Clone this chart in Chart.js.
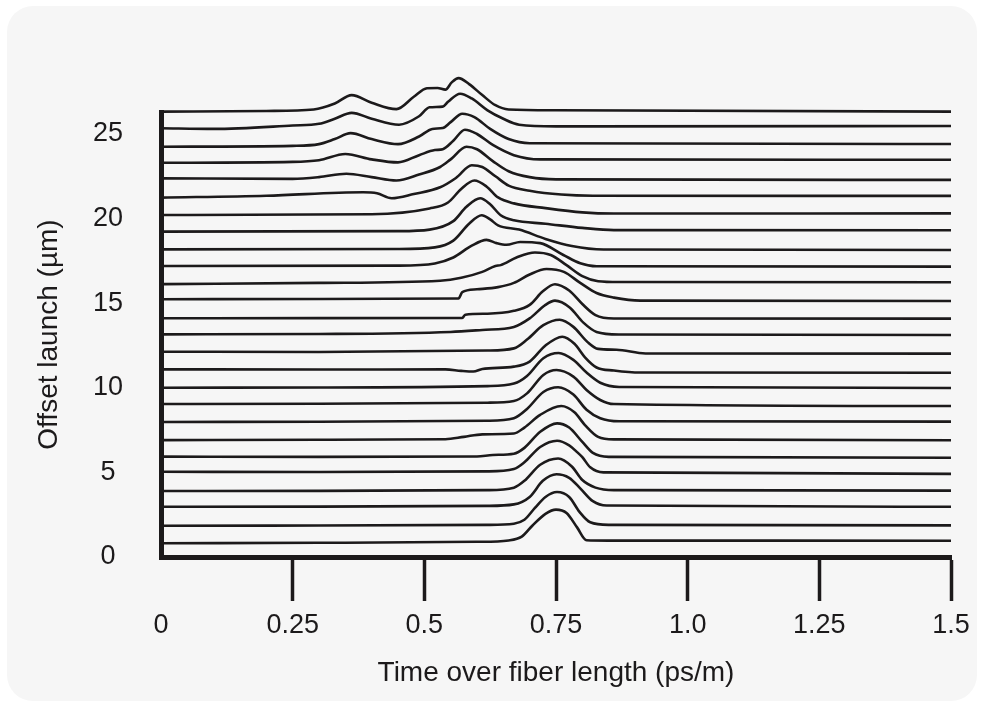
<!DOCTYPE html>
<html lang="en">
<head>
  <meta charset="UTF-8" />
  <title>Offset launch pulses</title>
  <script src="https://cdn.jsdelivr.net/npm/chart.js"></script>
  <style>
    body {
      margin: 0;
      background: #ffffff;
      font-family: "Liberation Sans", Arial, sans-serif;
    }
    .panel {
      position: absolute;
      left: 7px;
      top: 6px;
      width: 970px;
      height: 695px;
      border-radius: 26px;
      background: #f6f6f6;
    }
    canvas {
      position: absolute;
      left: 0;
      top: 0;
    }
  </style>
</head>
<body>
  <div class="panel"></div>
  <canvas id="pulseChart" width="984" height="708"></canvas>

  <script>
    // axis ticks
    const xTicks = [0, 0.25, 0.5, 0.75, 1.0, 1.25, 1.5];
    const xTickLabels = ["0", "0.25", "0.5", "0.75", "1.0", "1.25", "1.5"];
    const yTicks = [0, 5, 10, 15, 20, 25];

    // one trace per launch offset, bottom (1) to top (26): [time, level]
    const trace01 = [[0,0.81],[0.3,0.84],[0.6,0.90],[0.66,0.98],[0.685,1.2],[0.705,1.85],[0.73,2.55],[0.75,2.8],[0.77,2.6],[0.79,1.75],[0.808,0.99],[0.85,0.97],[1.5,0.96]];
    const trace02 = [[0,1.85],[0.3,1.86],[0.62,1.9],[0.67,1.97],[0.69,2.2],[0.71,2.9],[0.73,3.55],[0.752,3.84],[0.775,3.55],[0.795,2.65],[0.815,2.05],[0.85,1.9],[1.5,1.87]];
    const trace03 = [[0,2.97],[0.3,2.98],[0.62,3.02],[0.67,3.11],[0.70,3.55],[0.725,4.5],[0.751,4.89],[0.775,4.68],[0.796,4.06],[0.82,3.3],[0.846,3.04],[1.5,2.97]];
    const trace04 = [[0,3.90],[0.3,3.91],[0.62,3.95],[0.67,4.1],[0.69,4.5],[0.72,5.45],[0.754,5.82],[0.78,5.35],[0.80,4.55],[0.825,4.1],[0.86,3.95],[1.5,3.92]];
    const trace05 = [[0,5.04],[0.3,5.02],[0.62,5.06],[0.67,5.2],[0.69,5.6],[0.72,6.5],[0.752,6.87],[0.775,6.6],[0.79,6.2],[0.80,5.9],[0.815,5.3],[0.84,5.0],[1.5,4.91]];
    const trace06 = [[0,5.93],[0.3,5.92],[0.6,5.94],[0.63,6.03],[0.67,6.1],[0.69,6.45],[0.72,7.4],[0.752,7.9],[0.775,7.65],[0.80,6.8],[0.82,6.15],[0.85,5.92],[1.5,5.87]];
    const trace07 = [[0,6.91],[0.3,6.93],[0.54,6.96],[0.575,7.1],[0.61,7.25],[0.67,7.3],[0.69,7.65],[0.72,8.4],[0.76,8.92],[0.785,8.55],[0.805,7.8],[0.83,7.1],[0.86,6.95],[1.5,6.90]];
    const trace08 = [[0,7.98],[0.3,7.99],[0.62,8.05],[0.67,8.2],[0.695,8.75],[0.726,9.75],[0.754,10.03],[0.783,9.6],[0.808,8.7],[0.834,8.2],[0.87,8.02],[1.5,8.0]];
    const trace09 = [[0,9.04],[0.3,9.06],[0.62,9.12],[0.67,9.22],[0.695,9.67],[0.726,10.76],[0.751,11.05],[0.783,10.66],[0.808,9.87],[0.834,9.28],[0.86,9.04],[1.5,8.92]];
    const trace10 = [[0,10.0],[0.3,10.02],[0.62,10.1],[0.67,10.25],[0.695,10.7],[0.726,11.75],[0.755,12.06],[0.783,11.65],[0.808,10.9],[0.834,10.3],[0.87,10.05],[1.5,9.99]];
    const trace11 = [[0,11.09],[0.3,11.08],[0.54,11.09],[0.57,11.0],[0.593,10.96],[0.61,11.11],[0.67,11.25],[0.70,11.55],[0.73,12.5],[0.762,13.02],[0.785,12.6],[0.805,11.8],[0.827,11.2],[0.86,11.02],[0.91,10.9],[1.5,10.89]];
    const trace12 = [[0,12.13],[0.3,12.12],[0.62,12.2],[0.67,12.33],[0.695,12.85],[0.726,13.7],[0.757,14.02],[0.783,13.6],[0.81,12.7],[0.83,12.3],[0.865,12.25],[0.92,12.03],[1.5,12.02]];
    const trace13 = [[0,13.16],[0.3,13.18],[0.55,13.3],[0.61,13.42],[0.67,13.6],[0.70,14.1],[0.73,14.9],[0.748,15.15],[0.776,14.75],[0.802,13.85],[0.827,13.3],[0.87,13.15],[1.5,13.12]];
    const trace14 = [[0,14.11],[0.3,14.12],[0.572,14.13],[0.578,14.32],[0.62,14.38],[0.67,14.55],[0.70,14.9],[0.725,15.7],[0.748,16.12],[0.775,15.75],[0.80,14.95],[0.825,14.3],[0.86,14.1],[1.5,14.09]];
    const trace15 = [[0,15.23],[0.3,15.25],[0.565,15.28],[0.572,15.65],[0.60,15.82],[0.64,15.95],[0.67,16.2],[0.70,16.7],[0.732,17.02],[0.765,16.85],[0.796,16.2],[0.827,15.6],[0.86,15.33],[0.91,15.15],[1.5,15.13]];
    const trace16 = [[0.005,16.13],[0.3,16.2],[0.53,16.33],[0.57,16.5],[0.61,16.85],[0.635,17.2],[0.645,17.25],[0.675,17.7],[0.71,18.0],[0.74,17.85],[0.77,17.25],[0.80,16.6],[0.83,16.3],[0.87,16.25],[1.5,16.24]];
    const trace17 = [[0,17.20],[0.45,17.22],[0.52,17.35],[0.555,17.7],[0.59,18.4],[0.618,18.74],[0.637,18.55],[0.656,18.45],[0.682,18.62],[0.72,18.55],[0.764,17.85],[0.796,17.36],[0.827,17.18],[1.5,17.16]];
    const trace18 = [[0,18.18],[0.45,18.2],[0.52,18.3],[0.555,18.7],[0.585,19.7],[0.609,20.2],[0.625,19.95],[0.64,19.6],[0.68,19.35],[0.73,18.8],[0.78,18.38],[0.84,18.17],[1.5,18.14]];
    const trace19 = [[0,19.23],[0.45,19.26],[0.51,19.35],[0.555,19.85],[0.58,20.7],[0.606,21.2],[0.625,20.85],[0.645,20.2],[0.67,19.9],[0.73,19.7],[0.80,19.45],[0.86,19.32],[1.5,19.31]];
    const trace20 = [[0,20.21],[0.4,20.26],[0.51,20.6],[0.545,20.95],[0.57,21.75],[0.595,22.25],[0.618,21.9],[0.64,21.25],[0.67,20.9],[0.73,20.62],[0.80,20.37],[0.86,20.3],[1.5,20.31]];
    const trace21 = [[0,21.24],[0.2,21.35],[0.384,21.56],[0.41,21.5],[0.438,21.2],[0.48,21.45],[0.53,21.85],[0.56,22.4],[0.59,23.15],[0.61,23.05],[0.635,22.5],[0.66,21.95],[0.70,21.65],[0.76,21.42],[0.82,21.35],[1.5,21.34]];
    const trace22 = [[0,22.38],[0.25,22.35],[0.3,22.45],[0.352,22.65],[0.40,22.45],[0.447,22.25],[0.49,22.6],[0.53,23.05],[0.55,23.5],[0.58,24.25],[0.60,24.1],[0.63,23.4],[0.66,22.8],[0.70,22.45],[0.75,22.32],[1.5,22.29]];
    const trace23 = [[0,23.30],[0.25,23.35],[0.3,23.45],[0.35,23.82],[0.40,23.5],[0.45,23.32],[0.49,23.75],[0.52,24.05],[0.535,24.1],[0.555,24.6],[0.577,25.25],[0.60,25.0],[0.63,24.35],[0.67,23.75],[0.72,23.5],[1.5,23.48]];
    const trace24 = [[0,24.25],[0.25,24.3],[0.3,24.4],[0.33,24.7],[0.36,25.05],[0.40,24.7],[0.45,24.4],[0.49,24.85],[0.515,25.3],[0.535,25.35],[0.55,25.7],[0.572,26.2],[0.595,26.0],[0.625,25.3],[0.66,24.7],[0.70,24.45],[1.5,24.41]];
    const trace25 = [[0,25.34],[0.1,25.3],[0.25,25.5],[0.3,25.6],[0.33,25.9],[0.362,26.25],[0.40,25.9],[0.452,25.55],[0.49,26.05],[0.51,26.58],[0.535,26.62],[0.545,26.9],[0.568,27.38],[0.59,27.1],[0.62,26.4],[0.65,25.9],[0.68,25.55],[0.75,25.45],[1.5,25.47]];
    const trace26 = [[0,26.32],[0.2,26.36],[0.29,26.45],[0.33,26.8],[0.362,27.3],[0.40,26.85],[0.447,26.47],[0.48,27.2],[0.505,27.7],[0.525,27.72],[0.54,27.62],[0.552,28.05],[0.565,28.3],[0.585,27.95],[0.61,27.3],[0.635,26.7],[0.66,26.45],[0.75,26.4],[1.5,26.32]];

    const traces = [
      trace01, trace02, trace03, trace04, trace05, trace06, trace07, trace08, trace09,
      trace10, trace11, trace12, trace13, trace14, trace15, trace16, trace17, trace18,
      trace19, trace20, trace21, trace22, trace23, trace24, trace25, trace26
    ];

    const ink = "#1c1a1b";
    const tickFont = { family: "'Liberation Sans', Arial, sans-serif", size: 27 };
    const titleFont = { family: "'Liberation Sans', Arial, sans-serif", size: 28 };

    const datasets = traces.map((t, i) => ({
      label: "offset " + (i + 1),
      data: t.map(([x, y]) => ({ x, y })),
      borderColor: ink,
      borderWidth: 2.6,
      pointRadius: 0,
      fill: false,
      cubicInterpolationMode: "monotone",
      clip: false
    }));

    const ctx = document.getElementById("pulseChart").getContext("2d");
    new Chart(ctx, {
      type: "line",
      data: { datasets },
      options: {
        responsive: false,
        animation: false,
        layout: { padding: { top: 112, right: 33, left: 0, bottom: 0 } },
        plugins: {
          legend: { display: false },
          tooltip: { enabled: false }
        },
        scales: {
          x: {
            type: "linear",
            min: 0,
            max: 1.5,
            afterBuildTicks: s => { s.ticks = xTicks.map(v => ({ value: v })); },
            afterFit: s => { s.height = 151; },
            ticks: {
              autoSkip: false,
              maxRotation: 0,
              padding: 8,
              color: ink,
              font: tickFont,
              callback: (v, i) => xTickLabels[i]
            },
            grid: {
              drawOnChartArea: false,
              drawTicks: true,
              tickLength: 44,
              tickWidth: 3.5,
              tickColor: c => (c.tick && c.tick.value === 0 ? "rgba(0,0,0,0)" : ink)
            },
            border: { display: true, width: 5, color: ink },
            title: {
              display: true,
              text: "Time over fiber length (ps/m)",
              color: ink,
              font: titleFont,
              padding: { top: 0, bottom: 18 }
            }
          },
          y: {
            type: "linear",
            min: 0,
            max: 26.3,
            afterBuildTicks: s => { s.ticks = yTicks.map(v => ({ value: v })); },
            afterFit: s => { s.width = 161; },
            ticks: {
              crossAlign: "center",
              padding: 38,
              color: ink,
              font: tickFont
            },
            grid: { drawOnChartArea: false, drawTicks: false },
            border: { display: true, width: 5, color: ink },
            title: {
              display: true,
              text: "Offset launch (µm)",
              color: ink,
              font: titleFont,
              padding: { top: 32, bottom: 0 }
            }
          }
        }
      }
    });
  </script>
</body>
</html>
